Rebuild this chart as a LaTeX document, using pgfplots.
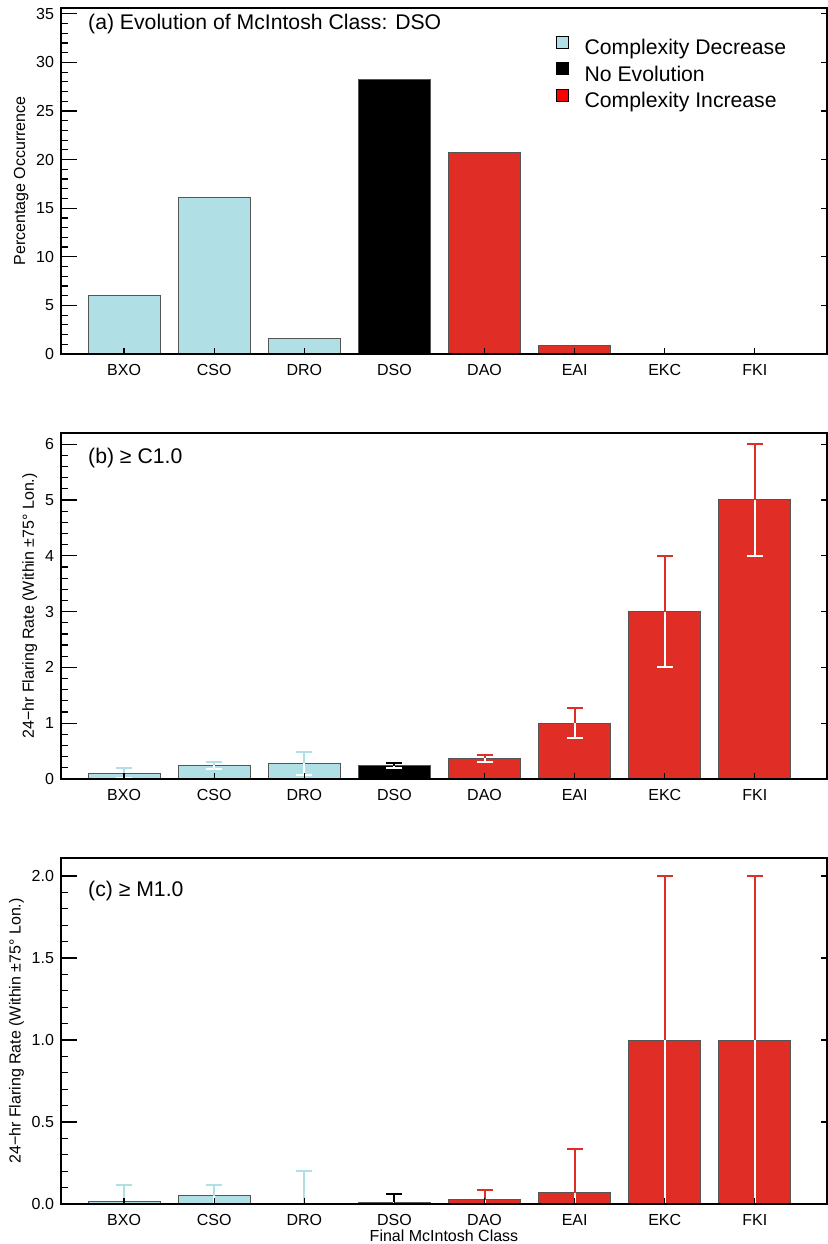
\documentclass[border=0pt]{standalone}
\usepackage{pgfplots}
\pgfplotsset{compat=1.18}
\usepackage{fontspec}
\setmainfont{Liberation Sans}
\definecolor{cdec}{RGB}{176,224,230}
\definecolor{cinc}{RGB}{224,45,38}
\definecolor{cleg}{RGB}{255,0,0}
\definecolor{bord}{RGB}{85,85,85}

\pgfplotsset{
  mybase/.style={
    scale only axis, width=383pt, height=173pt,
    xmin=-0.7, xmax=7.8,
    xtick={0,...,7},
    xticklabels={BXO,CSO,DRO,DSO,DAO,EAI,EKC,FKI},
    xtick pos=left, ytick pos=left,
    tick align=inside,
    major tick length=8pt, minor tick length=3.5pt,
    major x tick style={draw=none},
    tick style={black, line width=0.6pt},
    axis line style={line width=0.8pt},
    axis on top,
    ticklabel style={font=\fontsize{8}{9.6}\selectfont},
    xticklabel style={yshift=-1.5pt},
    label style={font=\fontsize{8}{9.6}\selectfont},
    ylabel shift=-3pt,
    /pgf/number format/assume math mode=true,
  },
  myover/.style={
    scale only axis, width=383pt, height=173pt,
    xmin=-0.7, xmax=7.8,
    axis line style={draw=none},
    xtick={0,...,7}, xticklabels={}, yticklabels={},
    xtick pos=left, ytick pos=right,
    tick align=inside, major tick length=3.2pt, minor tick num=0,
    tick style={black, line width=0.6pt},
  },
  bars/.style={ybar, bar width=0.8, bar shift=0pt, fill=#1, draw=bord, line width=0.5pt, forget plot},
  errup/.style={forget plot, draw=none, no markers,
    error bars/.cd, y dir=plus, y explicit,
    error bar style={draw=#1, line width=1pt},
    error mark options={draw=#1, line width=1pt, mark size=4pt, rotate=90}},
  errdn/.style={forget plot, draw=none, no markers,
    error bars/.cd, y dir=minus, y explicit,
    error bar style={draw=white, line width=1pt},
    error mark options={draw=white, line width=1pt, mark size=4pt, rotate=90}},
}
\newcommand{\ttl}{\fontsize{10.6}{12.7}\selectfont}

\begin{document}
\begin{tikzpicture}
\path[use as bounding box] (0pt,0pt) rectangle (414pt,622pt);

% ---------------- panel (a)
\begin{axis}[mybase, at={(30.5pt,445pt)}, anchor=south west,
  ymin=0, ymax=35.6, ytick={0,5,...,35}, minor y tick num=4,
  ylabel={Percentage Occurrence},
  legend cell align=left,
  legend image code/.code={\fill[#1] (0pt,0.6pt) rectangle (6pt,6.6pt);},
  legend style={at={(rel axis cs:0.646,0.920)}, anchor=north west, draw=none, fill=none,
    inner sep=0pt, outer sep=0pt, row sep=1.25pt, column sep=8pt,
    font=\ttl, nodes={inner sep=0pt, text height=8pt, text depth=2.5pt}},
]
\addplot[bars=cdec] coordinates {(0,6.05) (1,16.1) (2,1.6)};
\addplot[bars=black] coordinates {(3,28.25)};
\addplot[bars=cinc] coordinates {(4,20.7) (5,0.88) (6,0) (7,0)};
\addlegendimage{fill=cdec}
\addlegendentry{Complexity Decrease}
\addlegendimage{fill=black}
\addlegendentry{No Evolution}
\addlegendimage{fill=cleg}
\addlegendentry{Complexity Increase}
\node[anchor=base west, inner sep=0pt, font=\ttl] at (rel axis cs:0.035,0.938) {(a) Evolution of McIntosh Class: DSO};
\end{axis}
\begin{axis}[myover, at={(30.5pt,445pt)}, anchor=south west,
  ymin=0, ymax=35.6, ytick={0,5,...,35}]
\end{axis}

% ---------------- panel (b)
\begin{axis}[mybase, at={(30.5pt,232.5pt)}, anchor=south west,
  ymin=0, ymax=6.2, ytick={0,...,6}, minor y tick num=4,
  ylabel={24−hr Flaring Rate (Within ±75° Lon.)},
]
\addplot[bars=cdec] coordinates {(0,0.10) (1,0.245) (2,0.28)};
\addplot[bars=black] coordinates {(3,0.24)};
\addplot[bars=cinc] coordinates {(4,0.37) (5,1.0) (6,3.0) (7,5.0)};
\addplot[errup=cdec] table[x=x, y=y, y error plus=ep, y error minus=em] {
x y ep em
0 0.10 0.10 0.08
1 0.245 0.065 0.065
2 0.28 0.20 0.20
};
\addplot[errup=black] table[x=x, y=y, y error plus=ep, y error minus=em] {
x y ep em
3 0.24 0.05 0.05
};
\addplot[errup=cinc] table[x=x, y=y, y error plus=ep, y error minus=em] {
x y ep em
4 0.37 0.065 0.065
5 1.0 0.27 0.27
6 3.0 1.0 1.0
7 5.0 1.0 1.0
};
\addplot[errdn] table[x=x, y=y, y error plus=ep, y error minus=em] {
x y ep em
0 0.10 0.10 0.08
1 0.245 0.065 0.065
2 0.28 0.20 0.20
3 0.24 0.05 0.05
4 0.37 0.065 0.065
5 1.0 0.27 0.27
6 3.0 1.0 1.0
7 5.0 1.0 1.0
};
\node[anchor=base west, inner sep=0pt, font=\ttl] at (rel axis cs:0.035,0.912) {(b) ≥ C1.0};
\end{axis}
\begin{axis}[myover, at={(30.5pt,232.5pt)}, anchor=south west,
  ymin=0, ymax=6.2, ytick={0,...,6}]
\end{axis}

% ---------------- panel (c)
\begin{axis}[mybase, at={(30.5pt,20pt)}, anchor=south west,
  ymin=0, ymax=2.11, ytick={0,0.5,...,2}, minor y tick num=4,
  yticklabel style={/pgf/number format/.cd, fixed, fixed zerofill, precision=1},
  ylabel={24−hr Flaring Rate (Within ±75° Lon.)},
  xlabel={Final McIntosh Class},
  xlabel style={at={(axis description cs:0.5,0)}, anchor=north, inner sep=0pt, yshift=-13pt},
]
\addplot[bars=cdec] coordinates {(0,0.018) (1,0.05) (2,0)};
\addplot[bars=black] coordinates {(3,0.01)};
\addplot[bars=cinc] coordinates {(4,0.026) (5,0.069) (6,1.0) (7,1.0)};
\addplot[errup=cdec] table[x=x, y=y, y error plus=ep, y error minus=em] {
x y ep em
0 0.018 0.10 0.018
1 0.05 0.064 0.05
2 0.0 0.20 0.0
};
\addplot[errup=black] table[x=x, y=y, y error plus=ep, y error minus=em] {
x y ep em
3 0.01 0.05 0.01
};
\addplot[errup=cinc] table[x=x, y=y, y error plus=ep, y error minus=em] {
x y ep em
4 0.026 0.057 0.026
5 0.069 0.268 0.069
6 1.0 1.0 1.0
7 1.0 1.0 1.0
};
\addplot[errdn] table[x=x, y=y, y error plus=ep, y error minus=em] {
x y ep em
0 0.018 0.10 0.018
1 0.05 0.064 0.05
3 0.01 0.05 0.01
4 0.026 0.057 0.026
5 0.069 0.268 0.069
6 1.0 1.0 1.0
7 1.0 1.0 1.0
};
\node[anchor=base west, inner sep=0pt, font=\ttl] at (rel axis cs:0.035,0.888) {(c) ≥ M1.0};
\end{axis}
\begin{axis}[myover, at={(30.5pt,20pt)}, anchor=south west,
  ymin=0, ymax=2.11, ytick={0,0.5,...,2}]
\end{axis}
\end{tikzpicture}
\end{document}
